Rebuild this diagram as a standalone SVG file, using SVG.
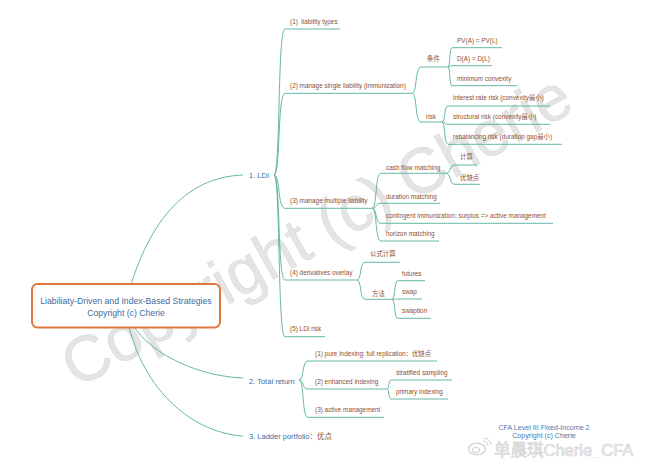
<svg xmlns="http://www.w3.org/2000/svg" width="648" height="458" viewBox="0 0 648 458">
<style>
text{font-family:"Liberation Sans","Noto Sans CJK SC",sans-serif}
.l1{font-size:7.5px;fill:#3d6c9c}
.l2{font-size:6.4px;fill:#8e4f30}
.root{font-size:8.7px;fill:#3d6c9c}
.ul{stroke:#55b09b;stroke-width:0.9;fill:none}
.cn path{stroke:#55b09b;stroke-width:0.9;fill:none}
.wm{font-size:64px;fill:#e4e4e4;stroke:#d9d9d9;stroke-width:0.5}
.wb{font-size:16.5px;fill:#f0f0f0;stroke:#cacaca;stroke-width:0.6}
.ft{font-size:7.1px;fill:#4a78b0}
</style>
<rect width="648" height="458" fill="#ffffff"/>
<text class="wm" transform="translate(77 389) rotate(-29.2)">Copyright (c) Cherie</text>
<g class="cn" id="connectors">
<path d="M125 306C146 222 185 177 243 175"/>
<path d="M125 306C132 345 190 376 243 378"/>
<path d="M125 306C135 380 185 432 243 436"/>
<path d="M274 175C280.6 175 277.3 29 285 29"/>
<path d="M274 175C280.6 175 277.3 93.3 285 93.3"/>
<path d="M274 175C280.6 175 277.3 208.3 285 208.3"/>
<path d="M274 175C280.6 175 277.3 280 285 280"/>
<path d="M274 175C280.6 175 277.3 336.7 285 336.7"/>
<path d="M412 93.3C417.4 93.3 414.7 67 421 67"/>
<path d="M412 93.3C417.4 93.3 414.7 122 421 122"/>
<path d="M448 67C450.4 67 449.2 47.7 452 47.7"/>
<path d="M448 67C450.4 67 449.2 65.7 452 65.7"/>
<path d="M448 67C450.4 67 449.2 85.7 452 85.7"/>
<path d="M442 122C445.6 122 443.8 106 448 106"/>
<path d="M442 122C445.6 122 443.8 124.3 448 124.3"/>
<path d="M442 122C445.6 122 443.8 144.3 448 144.3"/>
<path d="M372 208.3C377.4 208.3 374.7 173.3 381 173.3"/>
<path d="M372 208.3C377.4 208.3 374.7 203.3 381 203.3"/>
<path d="M372 208.3C377.4 208.3 374.7 223.3 381 223.3"/>
<path d="M372 208.3C377.4 208.3 374.7 241 381 241"/>
<path d="M446 173.3C451.4 173.3 448.7 165 455 165"/>
<path d="M446 173.3C451.4 173.3 448.7 184.3 455 184.3"/>
<path d="M357 280C361.8 280 359.4 262.3 365 262.3"/>
<path d="M357 280C361.8 280 359.4 299.3 365 299.3"/>
<path d="M392 299.3C395.6 299.3 393.8 280.7 398 280.7"/>
<path d="M392 299.3C395.6 299.3 393.8 299 398 299"/>
<path d="M392 299.3C395.6 299.3 393.8 318.3 398 318.3"/>
<path d="M299 380C304.4 380 301.7 361 308 361"/>
<path d="M299 380C304.4 380 301.7 389 308 389"/>
<path d="M299 380C304.4 380 301.7 417.3 308 417.3"/>
<path d="M387 389C389.4 389 388.2 380 391 380"/>
<path d="M387 389C389.4 389 388.2 399 391 399"/>
</g>
<g id="root">
<rect x="32" y="284" width="188" height="43.5" rx="5.5" fill="#ffffff" stroke="#e0773a" stroke-width="2"/>
<text class="root" x="126" y="304.2" text-anchor="middle">Liabiliaty-Driven and Index-Based Strategies</text>
<text class="root" x="126" y="315.6" text-anchor="middle">Copyright (c) Cherie</text>
</g>
<g id="ldi"><text class="l1" x="249" y="177.8">1. LDI</text></g>
<g id="total-return"><text class="l1" x="249" y="383.7">2. Total return</text></g>
<g id="ladder"><text class="l1" x="249" y="439.4">3. Ladder portfolio：<tspan fill="#8e4f30">优点</tspan></text></g>
<g id="liability-types"><text class="l2" x="290" y="24" style="white-space:pre">(1)  liability types</text><line class="ul" x1="285" y1="29" x2="340" y2="29"/></g>
<g id="single-liability"><text class="l2" x="290" y="88">(2) manage single liability (immunization)</text><line class="ul" x1="285" y1="93.3" x2="412" y2="93.3"/></g>
<g id="tiaojian"><text class="l2" x="427" y="60.5">条件</text><line class="ul" x1="421" y1="67" x2="448" y2="67"/></g>
<g id="pv"><text class="l2" x="457" y="43">PV(A) = PV(L)</text><line class="ul" x1="452" y1="47.7" x2="502" y2="47.7"/></g>
<g id="d"><text class="l2" x="457" y="61.3">D(A) = D(L)</text><line class="ul" x1="452" y1="65.7" x2="492" y2="65.7"/></g>
<g id="min-convexity"><text class="l2" x="457" y="81.3">minimum convexity</text><line class="ul" x1="452" y1="85.7" x2="517" y2="85.7"/></g>
<g id="risk"><text class="l2" x="426" y="119">risk</text><line class="ul" x1="421" y1="122" x2="442" y2="122"/></g>
<g id="ir-risk"><text class="l2" x="453" y="99.8">interest rate risk (convexity最小)</text><line class="ul" x1="448" y1="106" x2="550" y2="106"/></g>
<g id="struct-risk"><text class="l2" x="453" y="119">structural risk (convexity最小)</text><line class="ul" x1="448" y1="124.3" x2="550" y2="124.3"/></g>
<g id="rebal-risk"><text class="l2" x="453" y="139">rebalancing risk (duration gap最小)</text><line class="ul" x1="448" y1="144.3" x2="562" y2="144.3"/></g>
<g id="multiple-liability"><text class="l2" x="290" y="203.3">(3) manage multiple liability</text><line class="ul" x1="285" y1="208.3" x2="372" y2="208.3"/></g>
<g id="cash-flow"><text class="l2" x="386" y="169.6">cash flow matching</text><line class="ul" x1="381" y1="173.3" x2="446" y2="173.3"/></g>
<g id="jisuan"><text class="l2" x="460" y="158.5">计算</text><line class="ul" x1="455" y1="165" x2="477" y2="165"/></g>
<g id="youquedian1"><text class="l2" x="460" y="179.5">优缺点</text><line class="ul" x1="455" y1="184.3" x2="480" y2="184.3"/></g>
<g id="duration"><text class="l2" x="386" y="198.5">duration matching</text><line class="ul" x1="381" y1="203.3" x2="440" y2="203.3"/></g>
<g id="contingent"><text class="l2" x="386" y="217.8">contingent immunization: surplus =&gt; active management</text><line class="ul" x1="381" y1="223.3" x2="553" y2="223.3"/></g>
<g id="horizon"><text class="l2" x="386" y="236.2">horizon matching</text><line class="ul" x1="381" y1="241" x2="439" y2="241"/></g>
<g id="derivatives"><text class="l2" x="290" y="275">(4) derivatives overlay</text><line class="ul" x1="285" y1="280" x2="357" y2="280"/></g>
<g id="formula"><text class="l2" x="370" y="256">公式计算</text><line class="ul" x1="365" y1="262.3" x2="400" y2="262.3"/></g>
<g id="method"><text class="l2" x="372" y="295.5">方法</text><line class="ul" x1="365" y1="299.3" x2="392" y2="299.3"/></g>
<g id="futures"><text class="l2" x="402" y="275.8">futures</text><line class="ul" x1="398" y1="280.7" x2="425" y2="280.7"/></g>
<g id="swap"><text class="l2" x="402" y="294.2">swap</text><line class="ul" x1="398" y1="299" x2="422" y2="299"/></g>
<g id="swaption"><text class="l2" x="402" y="313.4">swaption</text><line class="ul" x1="398" y1="318.3" x2="431" y2="318.3"/></g>
<g id="ldi-risk"><text class="l2" x="290" y="331.4">(5) LDI risk</text><line class="ul" x1="285" y1="336.7" x2="325" y2="336.7"/></g>
<g id="pure-indexing"><text class="l2" x="315" y="355.7">(1) pure indexing: full replication：优缺点</text><line class="ul" x1="308" y1="361" x2="437" y2="361"/></g>
<g id="enhanced"><text class="l2" x="315" y="384">(2) enhanced indexing</text><line class="ul" x1="308" y1="389" x2="387" y2="389"/></g>
<g id="stratified"><text class="l2" x="396" y="374.6">stratified sampling</text><line class="ul" x1="391" y1="380" x2="452" y2="380"/></g>
<g id="primary"><text class="l2" x="396" y="394">primary indexing</text><line class="ul" x1="391" y1="399" x2="448" y2="399"/></g>
<g id="active"><text class="l2" x="315" y="412.4">(3) active management</text><line class="ul" x1="308" y1="417.3" x2="384" y2="417.3"/></g>
<g id="weibo-mark" opacity="0.9">
<ellipse cx="477" cy="449" rx="8.5" ry="5.8" fill="none" stroke="#c8c8c8" stroke-width="1.2"/>
<ellipse cx="476" cy="450" rx="3.8" ry="2.6" fill="none" stroke="#c8c8c8" stroke-width="1"/>
<path d="M483 441a5 5 0 0 1 5 5M484 438a8 8 0 0 1 7 7" fill="none" stroke="#c8c8c8" stroke-width="1"/>
<text class="wb" x="494" y="456">单晨琪Cherie_CFA</text>
</g>
<g id="footer">
<text class="ft" x="544" y="429.8" text-anchor="middle">CFA Level III Fixed-Income 2</text>
<text class="ft" x="544" y="438.3" text-anchor="middle">Copyright (c) Cherie</text>
</g>
</svg>
